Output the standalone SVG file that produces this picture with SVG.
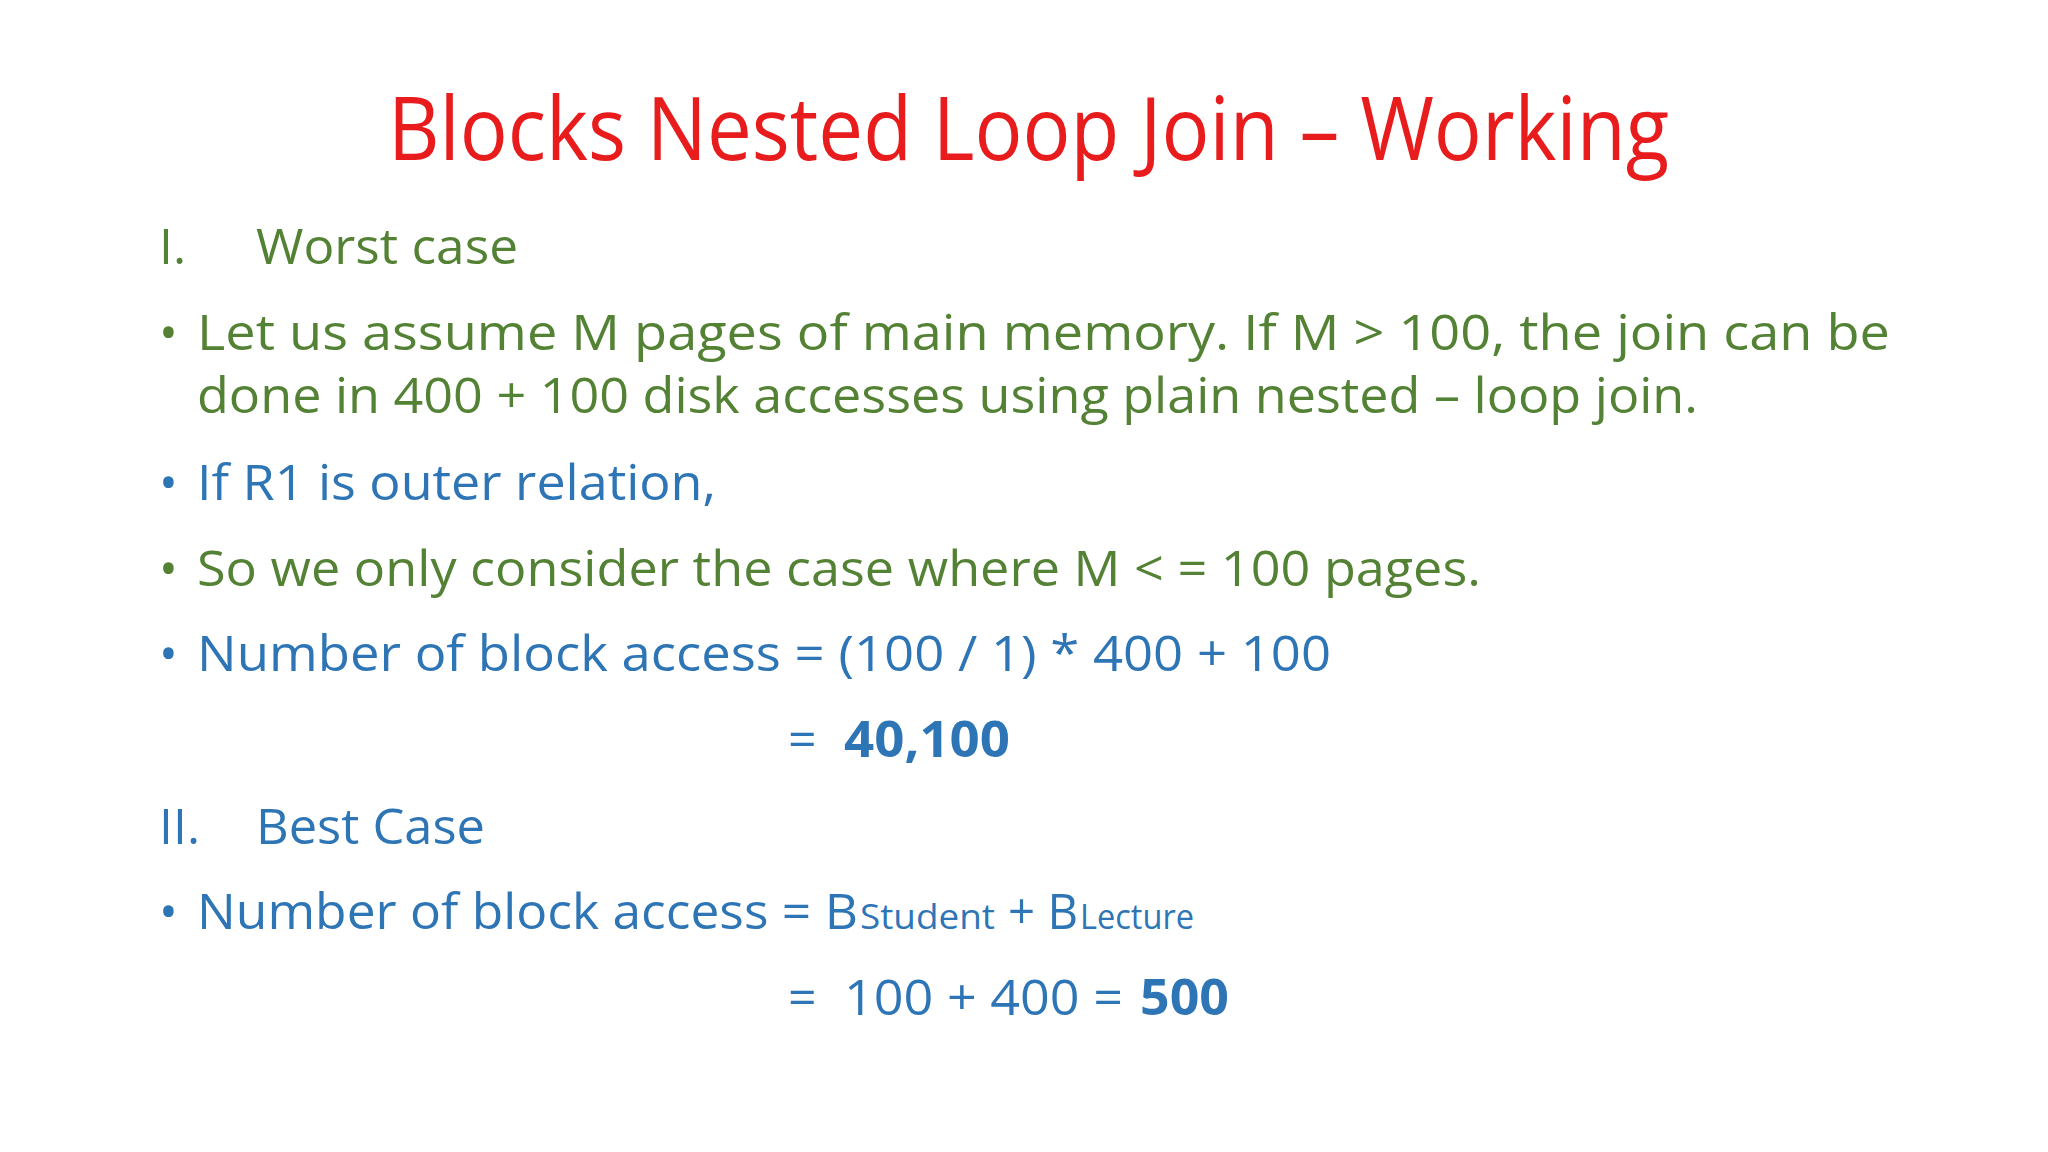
<svg xmlns="http://www.w3.org/2000/svg" width="2048" height="1152" viewBox="0 0 2048 1152">
<style>
text{font-family:"Open Sans","Liberation Sans",sans-serif;font-size:50px}
.g{fill:#548235}.b{fill:#2e75b6}.bd{font-weight:bold}
.t{fill:#e81c1c;font-size:88px}
</style>
<rect width="2048" height="1152" fill="#fff"/>
<text class="t" x="388" y="160" textLength="1281" lengthAdjust="spacingAndGlyphs">Blocks Nested Loop Join – Working</text>
<g class="g">
<text x="159" y="264">I.</text>
<text x="256" y="264" textLength="262" lengthAdjust="spacingAndGlyphs">Worst case</text>
<text x="159" y="350">•</text>
<text x="197" y="350" textLength="1693" lengthAdjust="spacingAndGlyphs">Let us assume M pages of main memory. If M &gt; 100, the join can be</text>
<text x="197" y="413" textLength="1501" lengthAdjust="spacingAndGlyphs">done in 400 + 100 disk accesses using plain nested – loop join.</text>
</g>
<g class="b">
<text x="159" y="500">•</text>
<text x="197" y="500" textLength="519" lengthAdjust="spacingAndGlyphs">If R1 is outer relation,</text>
</g>
<g class="g">
<text x="159" y="586">•</text>
<text x="197" y="586" textLength="1284" lengthAdjust="spacingAndGlyphs">So we only consider the case where M &lt; = 100 pages.</text>
</g>
<g class="b">
<text x="159" y="671">•</text>
<text x="197" y="671" textLength="1134" lengthAdjust="spacingAndGlyphs">Number of block access = (100 / 1) * 400 + 100</text>
<text x="788" y="757">=</text>
<text class="bd" x="844" y="757" textLength="166" lengthAdjust="spacingAndGlyphs">40,100</text>
<text x="159" y="844">II.</text>
<text x="256" y="844" textLength="229" lengthAdjust="spacingAndGlyphs">Best Case</text>
<text x="159" y="929">•</text>
<text x="197" y="929" textLength="661" lengthAdjust="spacingAndGlyphs">Number of block access = B</text>
<text x="860" y="929" style="font-size:34px" textLength="135" lengthAdjust="spacingAndGlyphs">Student</text>
<text x="1008" y="929" textLength="70" lengthAdjust="spacingAndGlyphs">+ B</text>
<text x="1080" y="929" style="font-size:34px" textLength="114" lengthAdjust="spacingAndGlyphs">Lecture</text>
<text x="788" y="1015">=</text>
<text x="844" y="1015" textLength="279" lengthAdjust="spacingAndGlyphs">100 + 400 =</text>
<text class="bd" x="1140" y="1015" textLength="89" lengthAdjust="spacingAndGlyphs">500</text>
</g>
</svg>
